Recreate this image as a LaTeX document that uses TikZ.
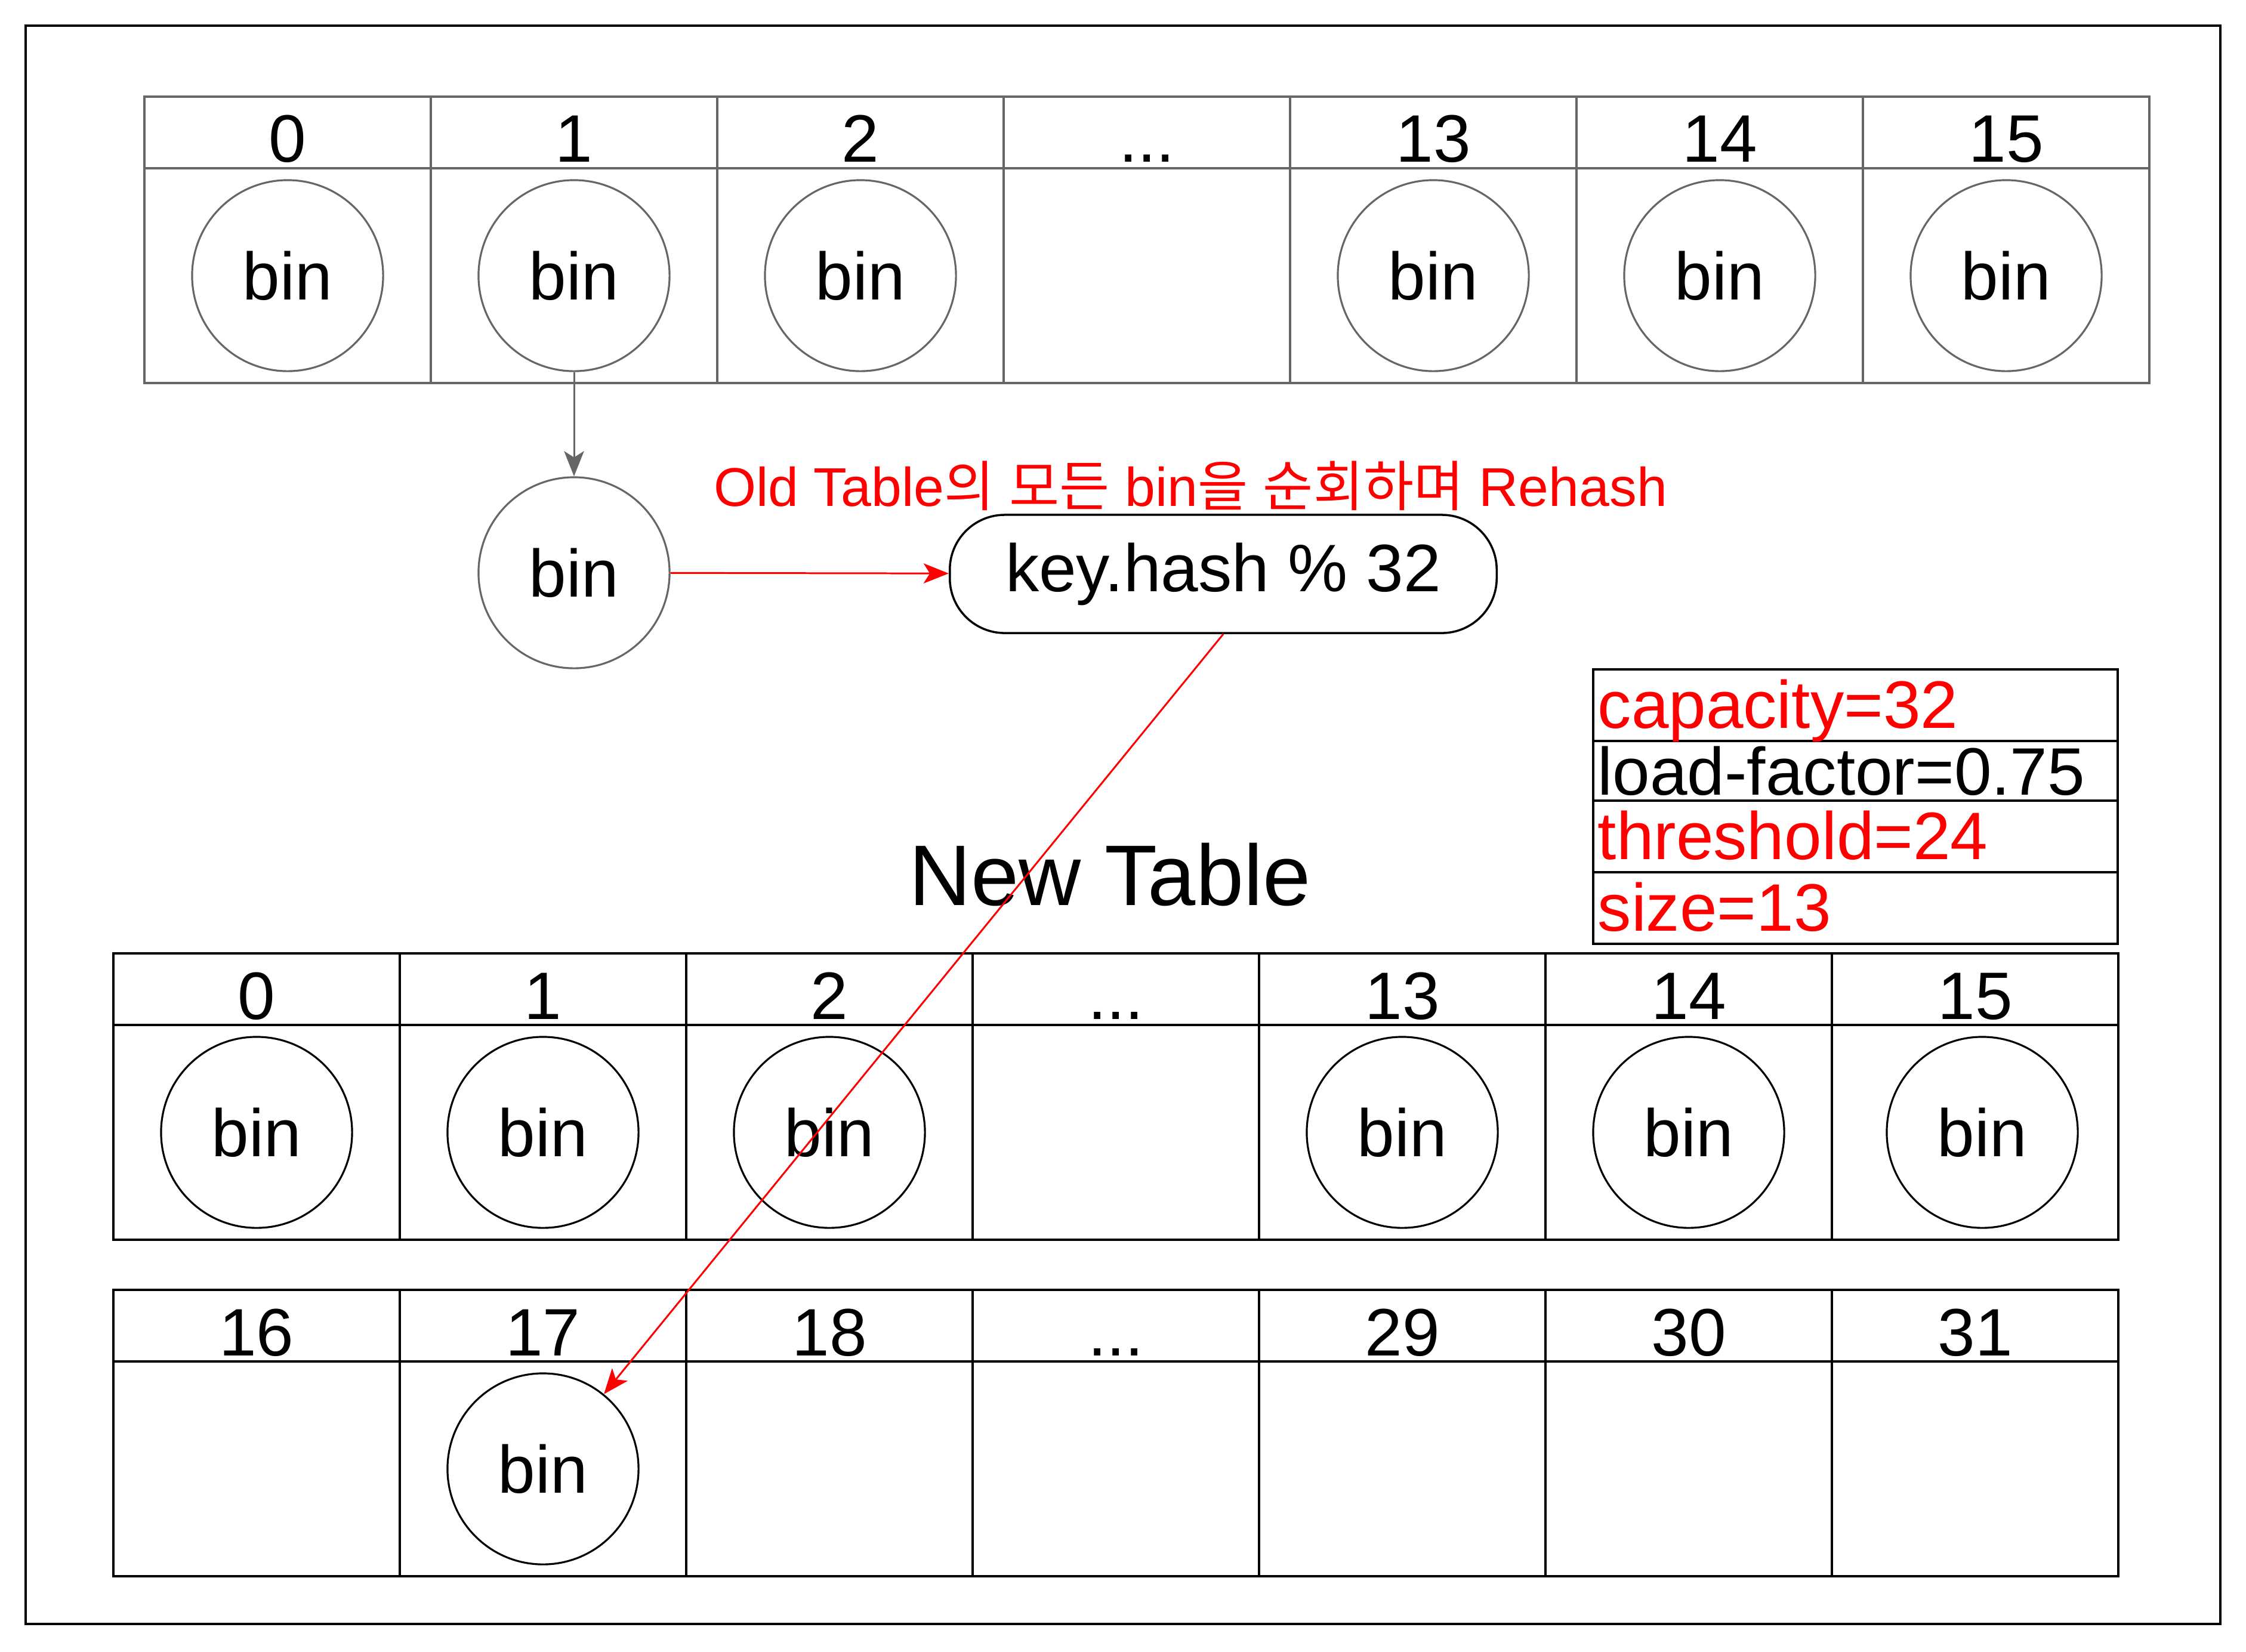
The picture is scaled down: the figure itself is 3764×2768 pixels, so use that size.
\documentclass[tikz,border=0pt]{standalone}
\usepackage{fontspec}
\setmainfont{Liberation Sans}
\newfontfamily\krfont{Noto Sans CJK KR}
\usetikzlibrary{arrows.meta}
\definecolor{oldgray}{RGB}{102,102,102}
\definecolor{myred}{RGB}{255,0,0}
\newcommand{\tripledot}{...}
\begin{document}
\begin{tikzpicture}[x=0.01cm,y=-0.01cm,
  tline/.style={line width=0.9pt},
  bincirc/.style={circle, draw, line width=0.9pt, minimum size=3.2cm, inner sep=0pt, font=\fontsize{32}{32}\selectfont},
  lbl/.style={anchor=base, inner sep=0pt, font=\fontsize{32}{32}\selectfont},
  infotxt/.style={anchor=base west, inner sep=0pt, font=\fontsize{32}{32}\selectfont},
  arr/.style={line width=0.85pt, -{Stealth[length=12pt, width=9.5pt, inset=3pt]}}
]
\useasboundingbox (0,0) rectangle (3764,2768);
% outer frame
\draw[line width=1pt] (43,43) rectangle (3721,2722);

% ---------- old table ----------
\foreach \i in {0,...,6}{
  \draw[tline, oldgray] ({242+480*\i},162) rectangle ({242+480*(\i+1)},282);
  \draw[tline, oldgray] ({242+480*\i},282) rectangle ({242+480*(\i+1)},642);
}
\foreach \i/\t in {0/0,1/1,2/2,3/\tripledot,4/13,5/14,6/15}
  \node[lbl] (oh\i) at ({482+480*\i},271) {\t};
\foreach \i in {0,1,2,4,5,6}
  \node[bincirc, draw=oldgray] (ob\i) at ({482+480*\i},462) {bin};

% chained bin
\node[bincirc, draw=oldgray] (chain) at (962,960) {bin};
\draw[arr, oldgray] (ob1) -- (chain);

% rehash node
\node[draw, line width=1pt, rounded corners=0.92cm, minimum width=9.16cm, minimum height=1.98cm, inner sep=0pt,
      font=\fontsize{32}{32}\selectfont] (kh) at (2050,962) {key.hash \% 32};
\draw[arr, myred] (chain) -- (kh);

\node[anchor=base, inner sep=0pt, text=myred, font=\fontsize{26}{26}\selectfont] (oldlbl) at (1995,848)
  {Old Table{\krfont 의} {\krfont 모든} bin{\krfont 을} {\krfont 순회하며} Rehash};

% info box
\draw[line width=1pt] (2670,1122) rectangle (3549,1242);
\draw[line width=1pt] (2670,1242) rectangle (3549,1342);
\draw[line width=1pt] (2670,1342) rectangle (3549,1462);
\draw[line width=1pt] (2670,1462) rectangle (3549,1582);
\node[infotxt, text=myred] (cap) at (2677,1220) {capacity=32};
\node[infotxt] (lf) at (2677,1332) {load-factor=0.75};
\node[infotxt, text=myred] (thr) at (2677,1440) {threshold=24};
\node[infotxt, text=myred] (sz) at (2677,1560) {size=13};

% New Table title
\node[anchor=base, inner sep=0pt, font=\fontsize{41}{41}\selectfont] (newlbl) at (1860,1517) {New Table};

% ---------- new table (0..15) ----------
\foreach \i in {0,...,6}{
  \draw[tline] ({190+480*\i},1598) rectangle ({190+480*(\i+1)},1718);
  \draw[tline] ({190+480*\i},1718) rectangle ({190+480*(\i+1)},2078);
}
\foreach \i/\t in {0/0,1/1,2/2,3/\tripledot,4/13,5/14,6/15}
  \node[lbl] (nh\i) at ({430+480*\i},1708) {\t};
\foreach \i in {0,1,2,4,5}
  \node[bincirc] (nb\i) at ({430+480*\i},1898) {bin};
\node[bincirc] (nb6) at (3322,1898) {bin};

% ---------- new table (16..31) ----------
\foreach \i in {0,...,6}{
  \draw[tline] ({190+480*\i},2162) rectangle ({190+480*(\i+1)},2282);
  \draw[tline] ({190+480*\i},2282) rectangle ({190+480*(\i+1)},2642);
}
\foreach \i/\t in {0/16,1/17,2/18,3/\tripledot,4/29,5/30,6/31}
  \node[lbl] (mh\i) at ({430+480*\i},2272) {\t};
\node[bincirc] (nb17) at (910,2462) {bin};

\draw[arr, myred] (kh.south) -- (nb17);
\end{tikzpicture}
\end{document}
